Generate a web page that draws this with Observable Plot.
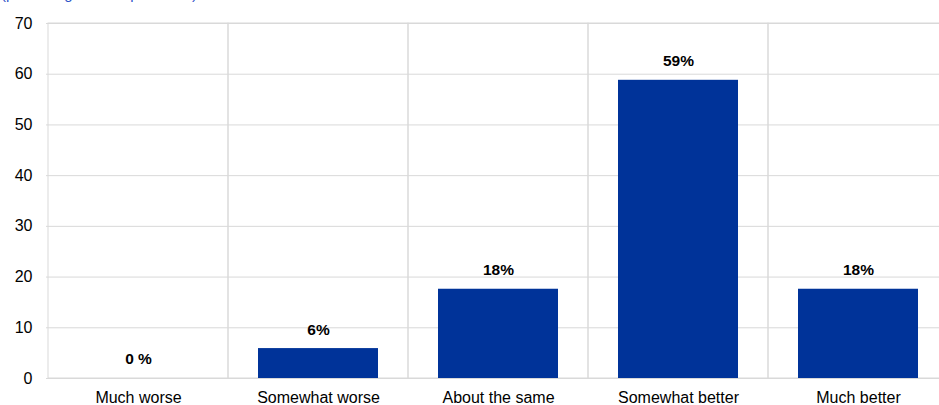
<!DOCTYPE html>
<html>
<head>
<meta charset="utf-8">
<script src="https://cdn.jsdelivr.net/npm/d3@7"></script>
<script src="https://cdn.jsdelivr.net/npm/@observablehq/plot@0.6"></script>
<style>
  html, body { margin: 0; padding: 0; background: #fff; overflow: hidden; }
  #wrap { position: relative; width: 939px; height: 405px; overflow: hidden; }
  #sub { position: absolute; left: 1px; top: -15px; font: 15px "Liberation Sans", Arial, sans-serif; color: #2f55c9; white-space: nowrap; }
  #chart { position: absolute; left: 0; top: 0; width: 949px; }
  #chart svg { max-width: none !important; }
</style>
</head>
<body>
<div id="wrap">
  <div id="sub">(percentages of respondents)</div>
  <div id="chart"></div>
</div>
<script>
const categories = ["Much worse", "Somewhat worse", "About the same", "Somewhat better", "Much better"];
const values = [0, 5.9, 17.6, 58.8, 17.6];
const valueLabels = ["0 %", "6%", "18%", "59%", "18%"];
const yTicks = [0, 10, 20, 30, 40, 50, 60, 70];

const data = categories.map((c, i) => ({cat: c, v: values[i], label: valueLabels[i]}));
const font = "'Liberation Sans', Arial, sans-serif";

const chart = Plot.plot({
  width: 949,
  height: 405,
  marginLeft: 46,
  marginRight: 0,
  marginTop: 23,
  marginBottom: 27,
  style: {fontFamily: font, fontSize: "16px", color: "#000", background: "transparent", maxWidth: "none"},
  x: {domain: categories, padding: 0, label: null},
  y: {domain: [0, 70], label: null},
  marks: [
    Plot.ruleY(yTicks, {y: d => d, stroke: "#d9d9d9", strokeWidth: 1}),
    Plot.barY(categories, {x: d => d, y1: 0, y2: 70, fill: "none", stroke: "#d9d9d9", strokeWidth: 1}),
    Plot.barY(data, {x: "cat", y: "v", fill: "#003399", insetLeft: 30, insetRight: 30}),
    Plot.text(data, {x: "cat", y: "v", text: "label", dy: -19, fontWeight: "bold", fontSize: 15.5, fill: "#000"}),
    Plot.axisY(yTicks, {tickSize: 0, tickPadding: 14, fontSize: 16, fill: "#000"}),
    Plot.axisX({tickSize: 0, tickPadding: 13, fontSize: 16, fill: "#000"})
  ]
});
document.getElementById("chart").appendChild(chart);
</script>
</body>
</html>
